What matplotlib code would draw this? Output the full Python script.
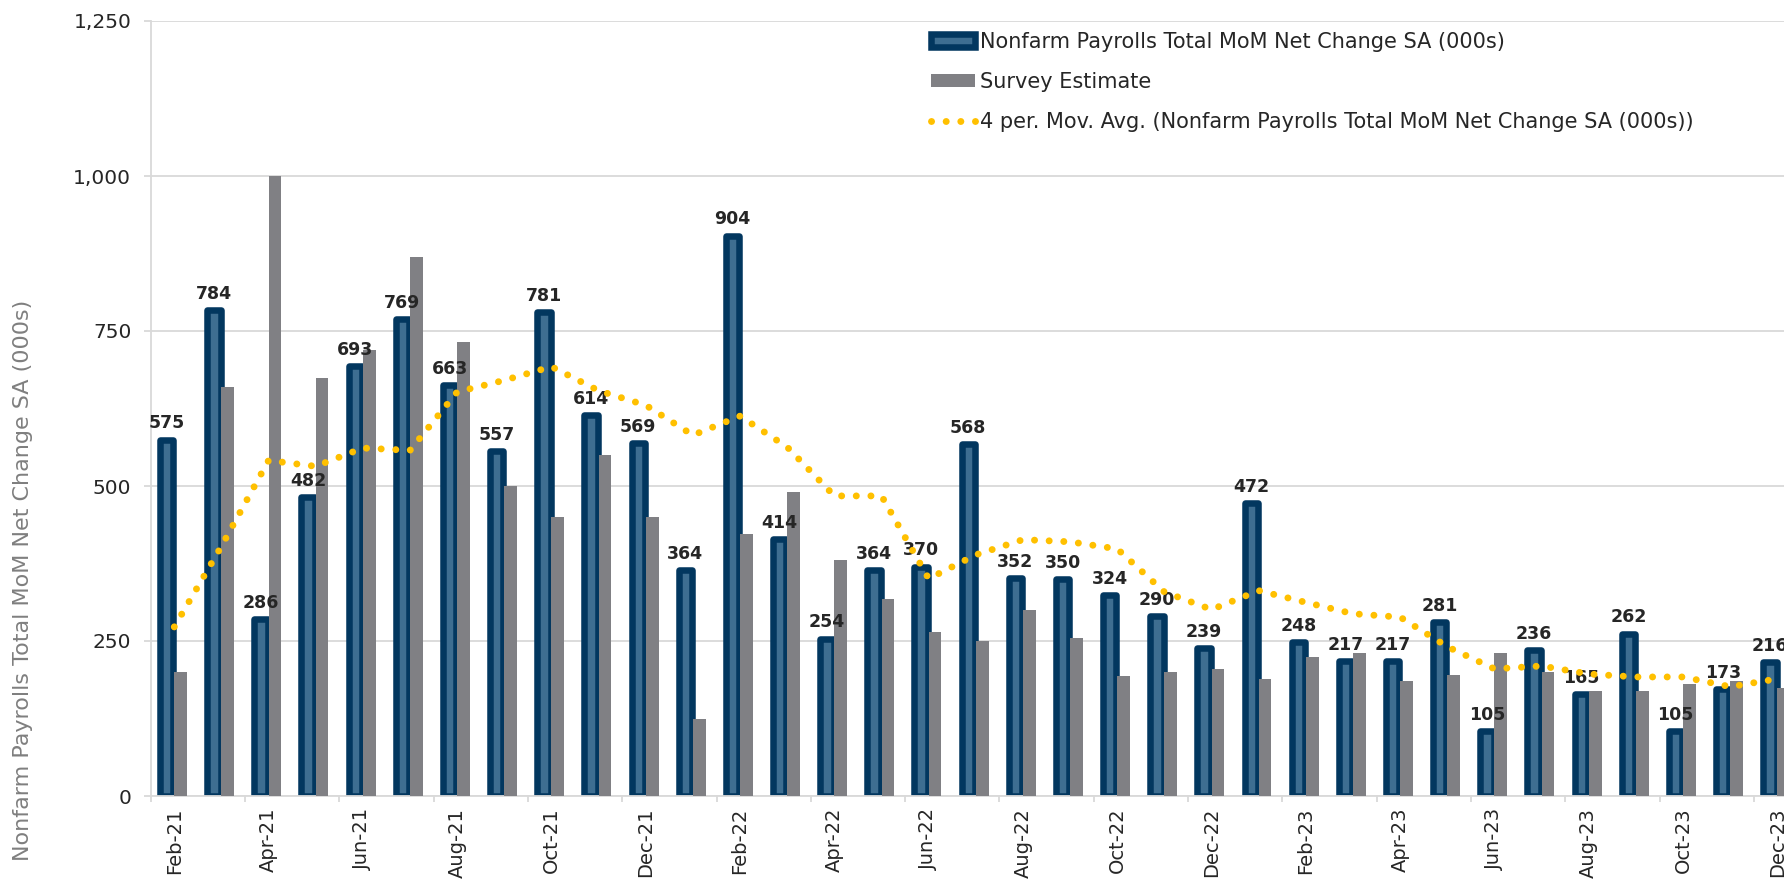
import numpy as np
import pandas as pd
import matplotlib
matplotlib.use("Agg")
import matplotlib.pyplot as plt
from matplotlib.ticker import FuncFormatter, FixedLocator


# months shown on the axis
months = list(pd.date_range("2021-02-01", periods=35, freq="MS").strftime("%b-%y"))

# Nonfarm payrolls MoM net change SA (000s)
payrolls = [575, 784, 286, 482, 693, 769, 663, 557, 781, 614, 569, 364,
            904, 414, 254, 364, 370, 568, 352, 350, 324, 290, 239, 472,
            248, 217, 217, 281, 105, 236, 165, 262, 105, 173, 216]

# survey estimate (000s)
survey = [200, 660, 1000, 675, 720, 870, 733, 500, 450, 550, 450, 125,
          423, 490, 380, 318, 265, 250, 300, 255, 193, 200, 205, 188,
          225, 230, 185, 195, 230, 200, 170, 170, 180, 185, 175]

# Nov-20 .. Jan-21, only needed to start the 4 month moving average
prior_payrolls = [264, -268, 520]

lbl_bars = "Nonfarm Payrolls Total MoM Net Change SA (000s)"
lbl_survey = "Survey Estimate"
lbl_ma = "4 per. Mov. Avg. (Nonfarm Payrolls Total MoM Net Change SA (000s))"


navy = '#02375f'
steel = '#3e6e91'
grey_bar = '#808084'
gold = '#ffc000'
grid_c = '#d9d9d9'
txt_c = '#262626'

W, H = 1784, 884
fig = plt.figure(figsize=(W / 100, H / 100), dpi=100)
ax = fig.add_axes([150.7 / W, 88 / H, 1 - 150.7 / W, 775 / H])

x = np.arange(len(months))

bars_nfp = ax.bar(x - 0.16, payrolls, width=0.284, color=steel, edgecolor=navy,
                  linewidth=4.7, joinstyle='round', zorder=2, label=lbl_bars)
bars_srv = ax.bar(x, survey, width=0.27, align='edge', color=grey_bar,
                  zorder=3, label=lbl_survey)

ma = pd.Series(prior_payrolls + payrolls).rolling(4).mean().to_numpy()[len(prior_payrolls):]
ma_line, = ax.plot(x, ma, color=gold, lw=5, linestyle=(0, (0.01, 2.1)),
                   dash_capstyle='round', zorder=6, label=lbl_ma)

for i, v in enumerate(payrolls):
    ax.annotate(f"{v}", (x[i] - 0.16, v), xytext=(0, 8), textcoords='offset points',
                ha='center', va='baseline', fontsize=12.5, fontweight='bold',
                color=txt_c, zorder=5)

# axes
ax.set_xlim(-0.5, 34.14)
ax.set_ylim(0, 1250)
ax.set_yticks(np.arange(0, 1251, 250))
ax.yaxis.set_major_formatter(FuncFormatter(lambda v, p: f"{int(v):,}"))
ax.grid(axis='y', color=grid_c, lw=1.3, zorder=0)
ax.set_axisbelow(True)

ax.set_xticks(x[::2])
ax.set_xticklabels(months[::2], rotation=90)
ax.xaxis.set_minor_locator(FixedLocator(np.arange(-0.5, 35, 2)))
ax.tick_params(axis='x', which='major', length=0, pad=8.5, labelsize=14, labelcolor=txt_c)
ax.tick_params(axis='x', which='minor', length=4.3, width=1.3, color=grid_c)
ax.tick_params(axis='y', length=5, width=1.3, color=grid_c, pad=9, labelsize=14.5, labelcolor=txt_c)

for s in ['top', 'right']:
    ax.spines[s].set_visible(False)
for s in ['left', 'bottom']:
    ax.spines[s].set_color(grid_c)
    ax.spines[s].set_linewidth(1.3)

fig.text(23 / W, 1 - 580 / H, "Nonfarm Payrolls Total MoM Net Change SA (000s)",
         rotation=90, ha='center', va='center', fontsize=16, color='#7f7f7f')

leg = ax.legend(handles=[bars_nfp, bars_srv, ma_line], loc='upper left',
                bbox_to_anchor=(931 / W, 1 - 31.5 / H), bbox_transform=fig.transFigure,
                frameon=False, fontsize=15, handlelength=2.1, handleheight=0.6,
                handletextpad=0.25, labelspacing=0.97, borderpad=0, borderaxespad=0)
for t in leg.get_texts():
    t.set_color(txt_c)

fig.savefig("out.png", dpi=100)
